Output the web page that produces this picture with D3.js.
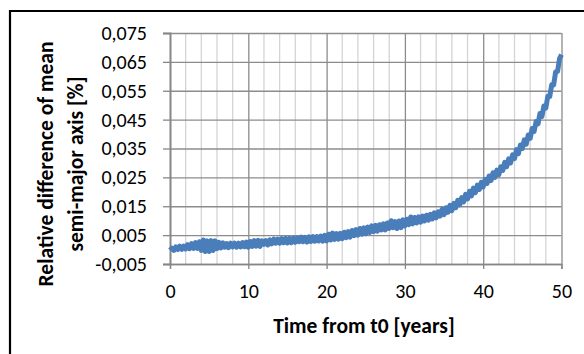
<!DOCTYPE html>
<html>
<head>
<meta charset="utf-8">
<script src="https://cdn.jsdelivr.net/npm/d3@7"></script>
<style>
  body { margin: 0; background: #fff; }
  svg { display: block; }
  text { font-family: Carlito, Lato, "Open Sans", sans-serif; fill: #000; }
</style>
</head>
<body>
<div id="chart"></div>
<script>
// Relative difference of mean semi-major axis vs time

const yTickValues = [-0.005, 0.005, 0.015, 0.025, 0.035, 0.045, 0.055, 0.065, 0.075];
const yTickLabels = ["-0,005", "0,005", "0,015", "0,025", "0,035", "0,045", "0,055", "0,065", "0,075"];
const xTickValues = [0, 10, 20, 30, 40, 50];
const xTickLabels = ["0", "10", "20", "30", "40", "50"];
const xMinorGrid = [2, 4, 6, 8, 12, 14, 16, 18, 22, 24, 26, 28, 32, 34, 36, 38, 42, 44, 46, 48];

// [years, relative difference %]
const series = [
  [0, -0.0002], [0.25, 0.0005], [0.5, -0.0003], [0.75, 0.0009],
  [1, 0.0000], [1.25, 0.0012], [1.5, 0.0001], [1.75, 0.0012],
  [2, 0.0002], [2.25, 0.0017], [2.5, 0.0003], [2.75, 0.0021],
  [3, 0.0004], [3.25, 0.0024], [3.5, 0.0004], [3.75, 0.0027],
  [4, -0.0003], [4.25, 0.0033], [4.5, -0.0007], [4.75, 0.0030],
  [5, -0.0007], [5.25, 0.0031], [5.5, -0.0003], [5.75, 0.0030],
  [6, 0.0003], [6.25, 0.0025], [6.5, 0.0006], [6.75, 0.0023],
  [7, 0.0008], [7.25, 0.0021], [7.5, 0.0007], [7.75, 0.0022],
  [8, 0.0009], [8.25, 0.0022], [8.5, 0.0008], [8.75, 0.0022],
  [9, 0.0009], [9.25, 0.0024], [9.5, 0.0010], [9.75, 0.0026],
  [10, 0.0008], [10.25, 0.0028], [10.5, 0.0011], [10.75, 0.0031],
  [11, 0.0012], [11.25, 0.0032], [11.5, 0.0011], [11.75, 0.0030],
  [12, 0.0018], [12.25, 0.0031], [12.5, 0.0016], [12.75, 0.0034],
  [13, 0.0020], [13.25, 0.0036], [13.5, 0.0022], [13.75, 0.0036],
  [14, 0.0022], [14.25, 0.0038], [14.5, 0.0024], [14.75, 0.0039],
  [15, 0.0023], [15.25, 0.0039], [15.5, 0.0024], [15.75, 0.0040],
  [16, 0.0025], [16.25, 0.0041], [16.5, 0.0027], [16.75, 0.0043],
  [17, 0.0027], [17.25, 0.0042], [17.5, 0.0026], [17.75, 0.0044],
  [18, 0.0028], [18.25, 0.0045], [18.5, 0.0029], [18.75, 0.0045],
  [19, 0.0030], [19.25, 0.0047], [19.5, 0.0029], [19.75, 0.0049],
  [20, 0.0030], [20.25, 0.0053], [20.5, 0.0033], [20.75, 0.0057],
  [21, 0.0035], [21.25, 0.0055], [21.5, 0.0036], [21.75, 0.0056],
  [22, 0.0038], [22.25, 0.0060], [22.5, 0.0041], [22.75, 0.0062],
  [23, 0.0043], [23.25, 0.0066], [23.5, 0.0048], [23.75, 0.0069],
  [24, 0.0050], [24.25, 0.0073], [24.5, 0.0053], [24.75, 0.0075],
  [25, 0.0055], [25.25, 0.0078], [25.5, 0.0059], [25.75, 0.0082],
  [26, 0.0062], [26.25, 0.0084], [26.5, 0.0064], [26.75, 0.0086],
  [27, 0.0068], [27.25, 0.0089], [27.5, 0.0068], [27.75, 0.0092],
  [28, 0.0073], [28.25, 0.0100], [28.5, 0.0076], [28.75, 0.0097],
  [29, 0.0073], [29.25, 0.0099], [29.5, 0.0076], [29.75, 0.0103],
  [30, 0.0082], [30.25, 0.0105], [30.5, 0.0086], [30.75, 0.0113],
  [31, 0.0089], [31.25, 0.0111], [31.5, 0.0092], [31.75, 0.0113],
  [32, 0.0095], [32.25, 0.0116], [32.5, 0.0099], [32.75, 0.0119],
  [33, 0.0102], [33.25, 0.0122], [33.5, 0.0106], [33.75, 0.0127],
  [34, 0.0110], [34.25, 0.0131], [34.5, 0.0116], [34.75, 0.0139],
  [35, 0.0121], [35.25, 0.0145], [35.5, 0.0129], [35.75, 0.0153],
  [36, 0.0135], [36.25, 0.0160], [36.5, 0.0145], [36.75, 0.0171],
  [37, 0.0155], [37.25, 0.0180], [37.5, 0.0165], [37.75, 0.0191],
  [38, 0.0175], [38.25, 0.0202], [38.5, 0.0186], [38.75, 0.0213],
  [39, 0.0197], [39.25, 0.0223], [39.5, 0.0208], [39.75, 0.0233],
  [40, 0.0217], [40.25, 0.0243], [40.5, 0.0229], [40.75, 0.0255],
  [41, 0.0239], [41.25, 0.0266], [41.5, 0.0250], [41.75, 0.0275],
  [42, 0.0259], [42.25, 0.0287], [42.5, 0.0274], [42.75, 0.0302],
  [43, 0.0287], [43.25, 0.0314], [43.5, 0.0300], [43.75, 0.0328],
  [44, 0.0315], [44.25, 0.0346], [44.5, 0.0332], [44.75, 0.0362],
  [45, 0.0350], [45.25, 0.0380], [45.5, 0.0365], [45.75, 0.0397],
  [46, 0.0385], [46.25, 0.0419], [46.5, 0.0409], [46.75, 0.0443],
  [47, 0.0435], [47.25, 0.0471], [47.5, 0.0461], [47.75, 0.0497],
  [48, 0.0490], [48.25, 0.0531], [48.5, 0.0530], [48.75, 0.0571],
  [49, 0.0570], [49.25, 0.0615], [49.5, 0.0617], [49.75, 0.0661],
  [50, 0.0675]
];

const width = 584;
const height = 354;
const margin = { top: 33, right: 22.5, bottom: 90, left: 170 };
const chartWidth = width - margin.left - margin.right;
const chartHeight = height - margin.top - margin.bottom;

const svg = d3.select("#chart").append("svg")
  .attr("width", width)
  .attr("height", height);

// outer frame (only left and top edges are inside the picture)
svg.append("path")
  .attr("d", `M10,${height + 5}V11H${width + 5}`)
  .attr("fill", "none")
  .attr("stroke", "#000")
  .attr("stroke-width", 2.2);

const g = svg.append("g")
  .attr("transform", `translate(${margin.left},${margin.top})`);

const x = d3.scaleLinear().domain([0, 50]).range([0, chartWidth]);
const y = d3.scaleLinear().domain([-0.005, 0.075]).range([chartHeight, 0]);

// minor vertical grid
g.append("g")
  .selectAll("line")
  .data(xMinorGrid)
  .join("line")
  .attr("x1", d => x(d)).attr("x2", d => x(d))
  .attr("y1", 0).attr("y2", chartHeight)
  .attr("stroke", "#d4d4d4")
  .attr("stroke-width", 1.3);

// major vertical grid
g.append("g")
  .call(d3.axisBottom(x).tickValues(xTickValues.slice(1)).tickSize(chartHeight).tickFormat(""))
  .call(a => a.select(".domain").remove())
  .selectAll("line")
  .attr("stroke", "#8c8c8c")
  .attr("stroke-width", 1.3);

// horizontal grid
g.append("g")
  .call(d3.axisLeft(y).tickValues(yTickValues).tickSize(-chartWidth).tickFormat(""))
  .call(a => a.select(".domain").remove())
  .selectAll("line")
  .attr("stroke", "#8c8c8c")
  .attr("stroke-width", 1.3);

// y axis
const yAxisG = g.append("g")
  .call(d3.axisLeft(y).tickValues(yTickValues).tickSize(7).tickPadding(16)
    .tickFormat((d, i) => yTickLabels[i]));
yAxisG.select(".domain").attr("stroke", "#868686").attr("stroke-width", 2);
yAxisG.selectAll(".tick line").attr("stroke", "#868686").attr("stroke-width", 1.3);
yAxisG.selectAll("text").style("font-size", "20px").attr("fill", "#000");

// x axis
const xAxisG = g.append("g")
  .attr("transform", `translate(0,${chartHeight})`)
  .call(d3.axisBottom(x).tickValues(xTickValues).tickSize(5).tickPadding(15)
    .tickFormat((d, i) => xTickLabels[i]));
xAxisG.select(".domain").attr("stroke", "#868686").attr("stroke-width", 1.3);
xAxisG.selectAll(".tick line").attr("stroke", "#868686").attr("stroke-width", 1.3);
xAxisG.selectAll("text").style("font-size", "20px").attr("fill", "#000");

// data line
const line = d3.line()
  .x(d => x(d[0]))
  .y(d => y(d[1]));

g.append("path")
  .datum(series)
  .attr("fill", "none")
  .attr("stroke", "#4a7ebb")
  .attr("stroke-width", 5)
  .attr("stroke-linejoin", "round")
  .attr("d", line);

// axis titles
svg.append("text")
  .attr("x", 364)
  .attr("y", 333)
  .attr("text-anchor", "middle")
  .style("font-size", "21.5px")
  .style("font-weight", "bold")
  .text("Time from t0 [years]");

const yTitle = svg.append("text")
  .attr("transform", `translate(52.5,164) rotate(-90)`)
  .attr("text-anchor", "middle")
  .style("font-size", "21.5px")
  .style("font-weight", "bold");
yTitle.append("tspan").attr("x", 0).attr("y", 0).text("Relative difference of mean");
yTitle.append("tspan").attr("x", 0).attr("y", 30).text("semi-major axis [%]");
</script>
</body>
</html>
